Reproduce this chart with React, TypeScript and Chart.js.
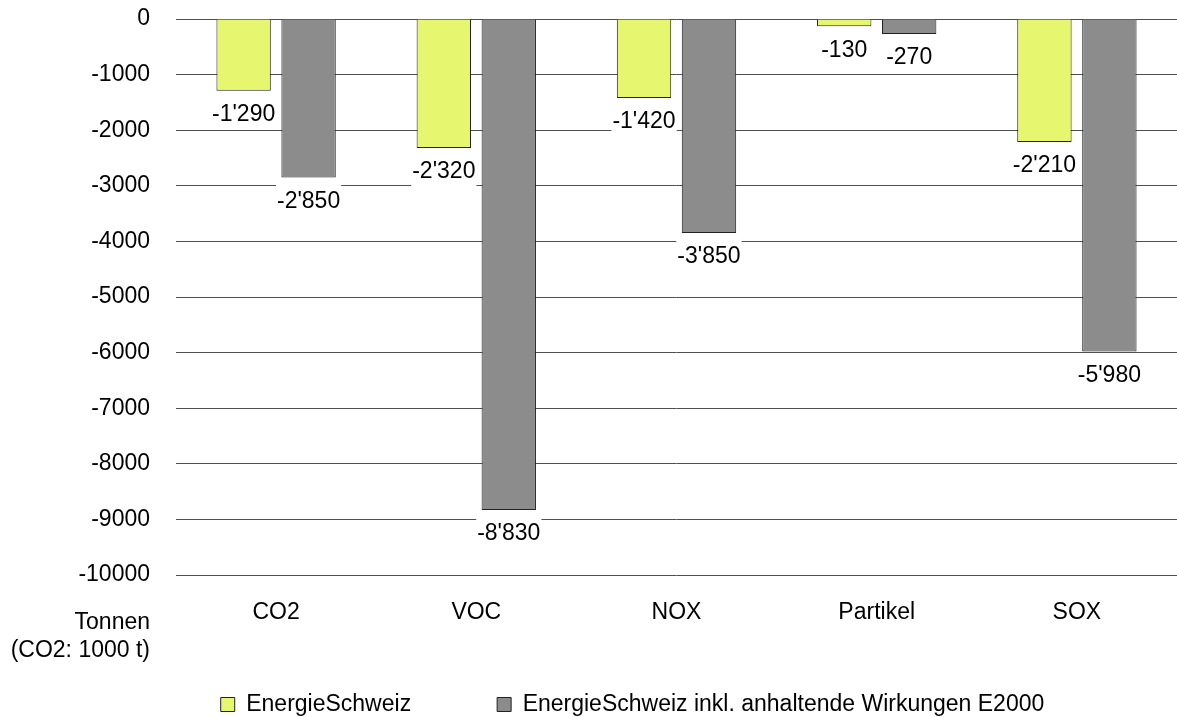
import React, { useEffect, useRef } from "react";
import { Chart, registerables } from "chart.js";

Chart.register(...registerables);

// ---- data ----
const categories = ["CO2", "VOC", "NOX", "Partikel", "SOX"];
const seriesNames = ["EnergieSchweiz", "EnergieSchweiz inkl. anhaltende Wirkungen E2000"];
const energieSchweiz = [-1290, -2320, -1420, -130, -2210];
const inklWirkungenE2000 = [-2850, -8830, -3850, -270, -5980];
const yTitleLines = ["Tonnen", "(CO2: 1000 t)"];
const yMin = -10000;
const yMax = 0;
const yStep = 1000;

const FONT = '"Liberation Sans", Arial, Helvetica, sans-serif';
const FS = 23;

function swiss(v: number): string {
  const s = Math.abs(v).toString().replace(/\B(?=(\d{3})+(?!\d))/g, "'");
  return (v < 0 ? "-" : "") + s;
}

const valueLabels = {
  id: "valueLabels",
  afterDatasetsDraw(chart: any) {
    const ctx = chart.ctx;
    ctx.save();
    ctx.font = `${FS}px ${FONT}`;
    ctx.textAlign = "center";
    ctx.textBaseline = "middle";
    chart.data.datasets.forEach((ds: any, i: number) => {
      const meta = chart.getDatasetMeta(i);
      meta.data.forEach((el: any, j: number) => {
        const text = swiss(ds.data[j]);
        const w = ctx.measureText(text).width;
        ctx.fillStyle = "#ffffff";
        ctx.fillRect(el.x - w / 2 - 1, el.y + 7, w + 2, 32);
        ctx.fillStyle = "#000000";
        ctx.fillText(text, el.x, el.y + 24);
      });
    });
    ctx.restore();
  },
};

const yTitle = {
  id: "yTitle",
  afterDraw(chart: any) {
    const ctx = chart.ctx;
    const ys = chart.scales.y;
    const x = ys.right - 26;
    const b = chart.chartArea.bottom;
    ctx.save();
    ctx.font = `${FS}px ${FONT}`;
    ctx.textAlign = "right";
    ctx.textBaseline = "alphabetic";
    ctx.fillStyle = "#000000";
    ctx.fillText(yTitleLines[0], x, b + 53.5);
    ctx.fillText(yTitleLines[1], x, b + 82);
    ctx.restore();
  },
};

export default function App() {
  const ref = useRef<HTMLCanvasElement | null>(null);

  useEffect(() => {
    if (!ref.current) return;
    Chart.defaults.font.family = FONT;
    Chart.defaults.font.size = FS;
    Chart.defaults.color = "#000000";
    const chart = new Chart(ref.current, {
      type: "bar",
      data: {
        labels: categories,
        datasets: [
          {
            label: seriesNames[0],
            data: energieSchweiz,
            backgroundColor: "#e6f66e",
            borderColor: "#222222",
            borderWidth: 1,
            categoryPercentage: 0.649,
            barPercentage: 0.837,
          },
          {
            label: seriesNames[1],
            data: inklWirkungenE2000,
            backgroundColor: "#8c8c8c",
            borderColor: "#222222",
            borderWidth: 1,
            categoryPercentage: 0.649,
            barPercentage: 0.837,
          },
        ],
      },
      options: {
        animation: false,
        responsive: false,
        devicePixelRatio: 1,
        layout: { padding: { left: 68, right: 0, top: 19, bottom: 0 } },
        plugins: {
          legend: {
            position: "bottom",
            labels: {
              boxWidth: 14,
              boxHeight: 14,
              padding: 86,
              color: "#000000",
              font: { size: FS, family: FONT },
            },
          },
          tooltip: { enabled: false },
        },
        scales: {
          x: {
            type: "category",
            grid: { display: false, drawTicks: false },
            border: { display: false },
            ticks: {
              mirror: true,
              padding: -51.3,
              color: "#000000",
              font: { size: FS, family: FONT },
              maxRotation: 0,
            },
            afterFit(scale: any) {
              scale.height = 32;
              scale.paddingLeft = 0;
              scale.paddingRight = 0;
            },
          },
          y: {
            type: "linear",
            min: yMin,
            max: yMax,
            grid: { color: "#505050", lineWidth: 1, drawTicks: false },
            border: { display: false },
            ticks: {
              stepSize: yStep,
              padding: 26,
              color: "#000000",
              font: { size: FS, family: FONT },
              callback: (v: any) => String(v),
            },
            afterFit(scale: any) {
              scale.width = 108;
              scale.paddingTop = 0;
              scale.paddingBottom = 0;
            },
          },
          y2: {
            type: "linear",
            position: "right",
            min: yMin,
            max: yMax,
            grid: { display: false, drawTicks: false },
            border: { display: false },
            ticks: { display: false },
            afterFit(scale: any) {
              scale.width = 20;
              scale.paddingTop = 0;
              scale.paddingBottom = 0;
            },
          },
        },
      },
      plugins: [valueLabels, yTitle],
    });
    return () => chart.destroy();
  }, []);

  return (
    <div style={{ position: "absolute", left: 0, top: 0, width: 1177, height: 717, overflow: "hidden", background: "#fff" }}>
      <canvas ref={ref} width={1197} height={726} style={{ display: "block" }} />
    </div>
  );
}
